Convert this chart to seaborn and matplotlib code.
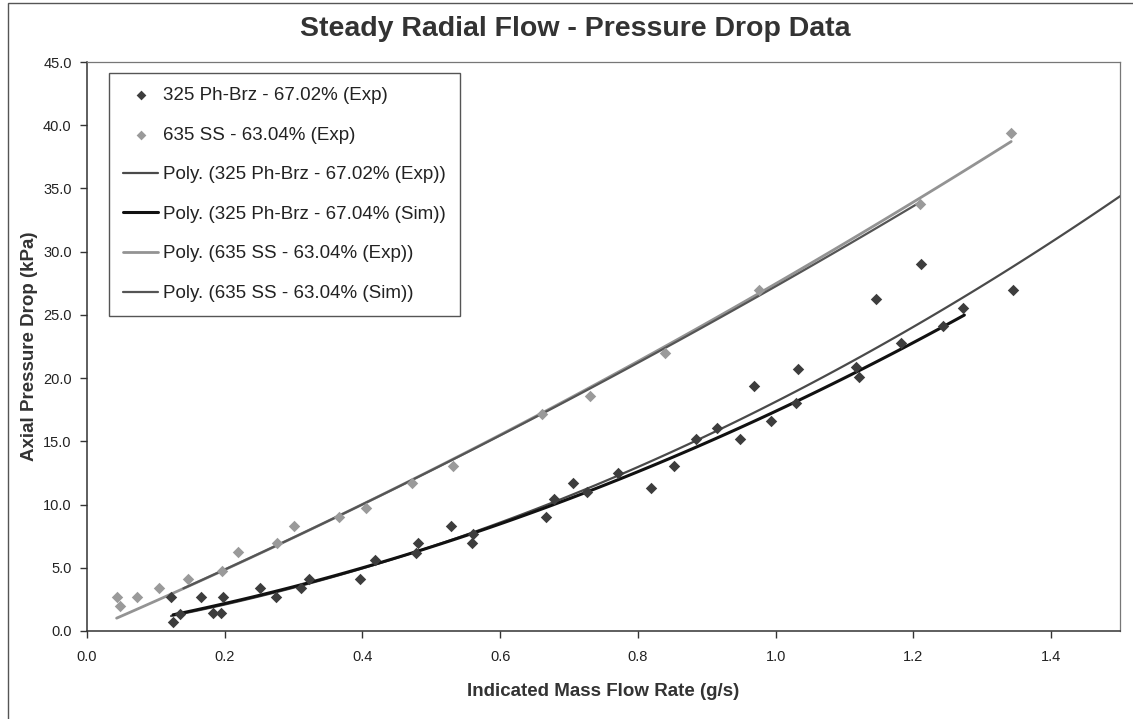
import numpy as np
import pandas as pd
import matplotlib
matplotlib.use("Agg")
import matplotlib.pyplot as plt
from matplotlib.ticker import FormatStrFormatter, MultipleLocator
from matplotlib.patches import Rectangle
import seaborn as sns

# ---------------- data ----------------
ph_exp_x = [0.122, 0.125, 0.135, 0.166, 0.183, 0.195, 0.197, 0.251, 0.275, 0.311,
            0.322, 0.396, 0.418, 0.478, 0.480, 0.528, 0.559, 0.561, 0.666, 0.678,
            0.705, 0.726, 0.771, 0.819, 0.852, 0.884, 0.915, 0.948, 0.968, 0.993,
            1.029, 1.033, 1.116, 1.121, 1.146, 1.182, 1.211, 1.243, 1.272, 1.345]
ph_exp_y = [2.66, 0.71, 1.35, 2.71, 1.40, 1.40, 2.71, 3.38, 2.66, 3.38,
            4.11, 4.09, 5.60, 6.20, 6.95, 8.30, 6.94, 7.65, 9.00, 10.42,
            11.73, 11.02, 12.48, 11.29, 13.08, 15.19, 16.04, 15.17, 19.38, 16.64,
            18.06, 20.75, 20.86, 20.07, 26.27, 22.81, 29.03, 24.13, 25.55, 26.98]

ss_exp_x = [0.043, 0.048, 0.072, 0.104, 0.146, 0.196, 0.219, 0.276, 0.300, 0.366,
            0.405, 0.472, 0.531, 0.660, 0.730, 0.840, 0.976, 1.210, 1.342]
ss_exp_y = [2.71, 2.00, 2.66, 3.38, 4.09, 4.77, 6.25, 6.95, 8.30, 9.04,
            9.70, 11.68, 13.08, 17.20, 18.60, 22.00, 27.00, 33.80, 39.40]

# simulated series (markers hidden in the original, only their trendlines shown)
ph_sim_x = [0.125, 0.30, 0.50, 0.70, 0.90, 1.10, 1.274]
ph_sim_y = [1.2, 3.7, 6.5, 10.5, 14.9, 20.0, 25.0]
ss_sim_x = [0.14, 0.40, 0.70, 1.00, 1.21]
ss_sim_y = [3.35, 10.0, 18.3, 27.3, 33.9]

labels = ["325 Ph-Brz - 67.02% (Exp)",
          "635 SS - 63.04% (Exp)",
          "Poly. (325 Ph-Brz - 67.02% (Exp))",
          "Poly. (325 Ph-Brz - 67.04% (Sim))",
          "Poly. (635 SS - 63.04% (Exp))",
          "Poly. (635 SS - 63.04% (Sim))"]

title = "Steady Radial Flow - Pressure Drop Data"
xlabel = "Indicated Mass Flow Rate (g/s)"
ylabel = "Axial Pressure Drop (kPa)"


def poly2_zero(xs, ys, x0, x1):
    """Order-2 polynomial trendline with the intercept set to 0 (as in the source)."""
    xs = np.asarray(xs, float)
    ys = np.asarray(ys, float)
    A = np.column_stack([xs, xs ** 2])
    coef, *_ = np.linalg.lstsq(A, ys, rcond=None)
    gx = np.linspace(x0, x1, 120)
    return gx, coef[0] * gx + coef[1] * gx ** 2


# ---------------- style ----------------
sns.set_style("white")
plt.rcParams["font.family"] = ["Liberation Sans", "DejaVu Sans"]

dark_pt = "#3d3d3d"
light_pt = "#9a9a9a"

fig = plt.figure(figsize=(11.33, 7.19), dpi=100)
ax = fig.add_axes([87 / 1133, 1 - 631 / 719, (1120 - 87) / 1133, (631 - 62) / 719])

handles = []

# scatter series
sns.scatterplot(x=ph_exp_x, y=ph_exp_y, marker="D", s=34, color=dark_pt,
                linewidth=0, ax=ax, zorder=3)
handles.append(ax.collections[-1])
sns.scatterplot(x=ss_exp_x, y=ss_exp_y, marker="D", s=34, color=light_pt,
                linewidth=0, ax=ax, zorder=3)
handles.append(ax.collections[-1])

# trendlines
fits = [
    (ph_exp_x, ph_exp_y, min(ph_exp_x), 1.56, "#4a4a4a", 1.6),   # forecast forward
    (ph_sim_x, ph_sim_y, min(ph_sim_x), max(ph_sim_x), "#111111", 2.2),
    (ss_exp_x, ss_exp_y, min(ss_exp_x), max(ss_exp_x), "#939393", 2.0),
    (ss_sim_x, ss_sim_y, min(ss_sim_x), max(ss_sim_x), "#555555", 1.6),
]
for xs, ys, x0, x1, col, lw in fits:
    gx, gy = poly2_zero(xs, ys, x0, x1)
    sns.lineplot(x=gx, y=gy, sort=False, color=col, lw=lw, ax=ax, zorder=2)
    handles.append(ax.lines[-1])

ax.set_xlim(0, 1.5)
ax.set_ylim(0, 45)

# axes formatting
ax.xaxis.set_major_locator(MultipleLocator(0.2))
ax.yaxis.set_major_locator(MultipleLocator(5))
ax.xaxis.set_major_formatter(FormatStrFormatter("%.1f"))
ax.yaxis.set_major_formatter(FormatStrFormatter("%.1f"))
ax.tick_params(axis="both", direction="out", length=5, width=1, color="#333333",
               labelsize=10.5, labelcolor="#222222", pad=6)
ax.tick_params(axis="x", pad=9)
ax.tick_params(bottom=True, left=True)
for side in ["left", "bottom"]:
    ax.spines[side].set_color("#333333")
    ax.spines[side].set_linewidth(1.1)
for side in ["top", "right"]:
    ax.spines[side].set_color("#777777")
    ax.spines[side].set_linewidth(0.9)
ax.grid(False)

ax.set_xlabel(xlabel, fontsize=13.5, fontweight="bold", color="#333333", labelpad=13)
ax.set_ylabel(ylabel, fontsize=13.5, fontweight="bold", color="#333333", labelpad=4)
fig.suptitle(title, x=0.508, y=0.978, fontsize=20.5, fontweight="bold", color="#333333")

# legend in the specified order
leg = ax.legend(handles, labels,
                loc="upper left", bbox_to_anchor=(0.021, 0.981), borderaxespad=0,
                fontsize=13.5, frameon=True, fancybox=False, shadow=False,
                edgecolor="#555555", framealpha=1, labelspacing=1.2,
                handlelength=1.9, handletextpad=0.25, borderpad=0.75,
                markerscale=0.85, labelcolor="#222222")
leg.get_frame().set_linewidth(1.0)

# outer chart-area border
fig.patches.append(Rectangle((8 / 1133, -0.02), 1.0, 1 - 3 / 719 + 0.02,
                             transform=fig.transFigure, fill=False,
                             edgecolor="#555555", linewidth=1.0))

fig.savefig("out.png", dpi=100, facecolor="white")
